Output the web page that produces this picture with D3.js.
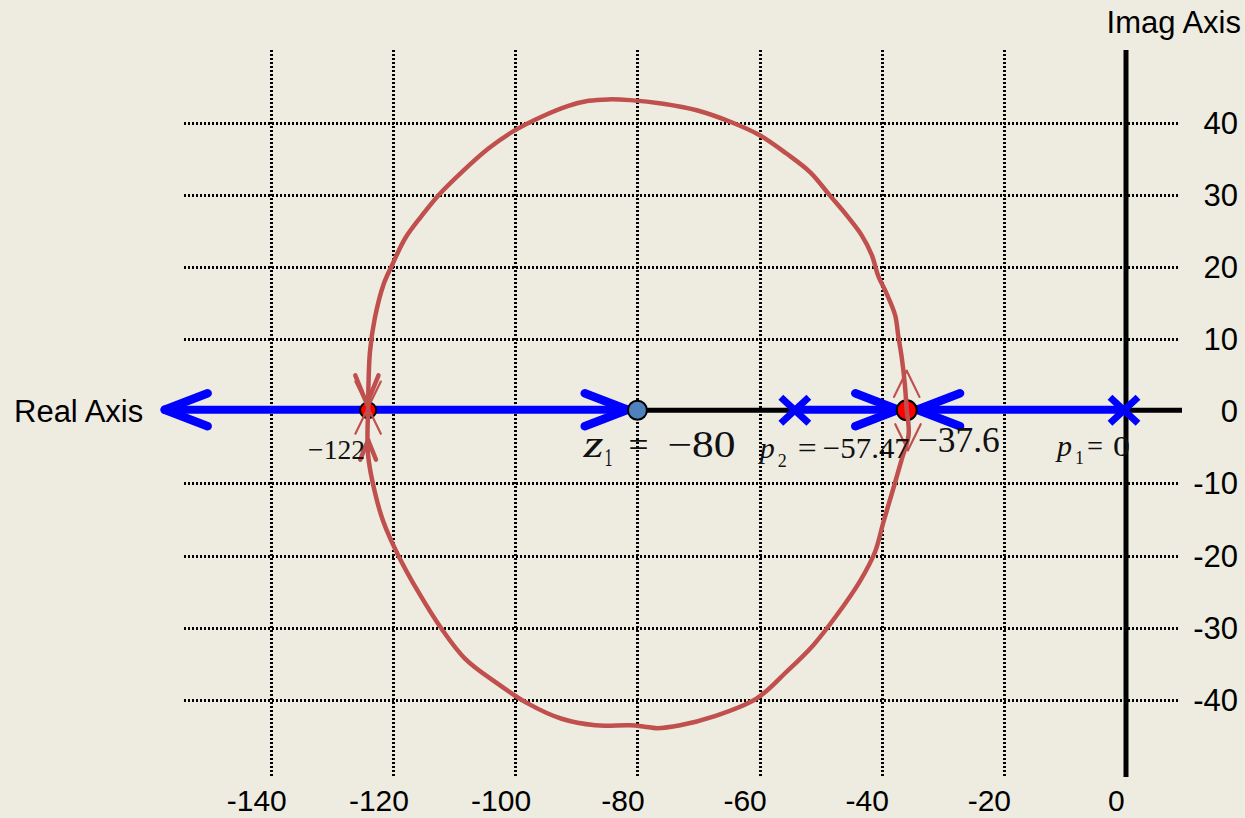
<!DOCTYPE html>
<html>
<head>
<meta charset="utf-8">
<script src="https://cdn.jsdelivr.net/npm/d3@7"></script>
<style>
    body { margin: 0; background: #EEECE1; }
    svg { display: block; }
</style>
</head>
<body>
<svg id="locus"></svg>
<script>
// axis ticks
const xTicks = [-140, -120, -100, -80, -60, -40, -20, 0];
const yTicks = [40, 30, 20, 10, 0, -10, -20, -30, -40];

// open loop poles and zero, break-in / breakaway points (as drawn)
const poles = [0, -53.9];
const zeros = [-80];
const breakPoints = [-124.1, -35.9];

// real axis branches [from, to]
const realSegments = [[-124.1, -157.4], [-124.1, -80], [-53.9, -35.9], [0, -35.9]];
// arrow tips on the real axis and their direction (+1 right, -1 left)
const realArrowTips = [-157.4, -81.6, -37.3, -34.2];
const realArrowDirs = [-1, 1, 1, -1];

// complex branches [re, im]
const locusUpper = [
    [-124.1, 0], [-123.8, 8.2], [-123.0, 12.9], [-121.6, 17.5], [-120.2, 20.2],
    [-118.0, 24.0], [-115.3, 27.1], [-112.6, 29.9], [-108.8, 33.1], [-104.4, 36.4],
    [-100.1, 38.9], [-95.7, 40.8], [-91.3, 42.3], [-88.0, 43.0], [-84.8, 43.2],
    [-81.2, 43.1], [-75.8, 42.6], [-70.3, 41.7], [-64.8, 40.1], [-59.9, 38.2],
    [-55.6, 35.7], [-51.7, 33.1], [-48.5, 29.9], [-45.7, 27.1], [-43.3, 24.4],
    [-41.6, 21.6], [-40.6, 18.8], [-39.2, 16.3], [-37.8, 13.3], [-37.3, 10.5],
    [-36.7, 7.3], [-36.2, 3.6], [-35.9, 0]
];
const locusLower = [
    [-124.1, 0], [-124.1, -6.1], [-123.0, -11.2], [-121.6, -15.3], [-119.2, -19.9],
    [-115.9, -25.0], [-112.1, -30.1], [-108.2, -34.3], [-103.3, -37.5], [-97.9, -40.5],
    [-92.4, -42.6], [-86.9, -43.5], [-81.2, -43.5], [-78.8, -43.7], [-76.8, -43.9],
    [-73.0, -43.5], [-67.6, -42.3], [-60.5, -39.8], [-55.6, -36.1], [-51.2, -32.4],
    [-47.4, -28.3], [-43.6, -23.6], [-41.1, -19.5], [-39.7, -15.3], [-38.1, -10.7],
    [-36.7, -6.6], [-35.6, -3.3], [-35.9, 0]
];

// direction arrows on the complex branches [re, im, +1 pointing down / -1 up]
const locusArrows = [
    [-124.3, 1.0, 1], [-124.1, -4.0, -1],
    [-124.1, 0.5, 1], [-124.1, 0.5, -1],
    [-35.9, 5.6, -1], [-35.7, -5.4, 1]
];

class RootLocus {
    constructor(_config) {
        this.config = {
            parentElement: _config.parentElement,
            containerWidth: _config.containerWidth || 1245,
            containerHeight: _config.containerHeight || 818,
            gridTop: 50, gridBottom: 776, gridLeft: 184, gridRight: 1179
        }
        this.initVis();
    }

    initVis() {
        let vis = this;
        vis.xScale = d3.scaleLinear().domain([-140, 0]).range([271, 1126]);
        vis.yScale = d3.scaleLinear().domain([-40, 40]).range([700, 122.5]);

        vis.svg = d3.select(vis.config.parentElement)
            .attr('width', vis.config.containerWidth)
            .attr('height', vis.config.containerHeight);

        vis.svg.append('rect')
            .attr('width', vis.config.containerWidth)
            .attr('height', vis.config.containerHeight)
            .attr('fill', '#EEECE1');

        vis.renderVis();
    }

    chevron(g, tipX, tipY, ux, uy, len, angle, color, width) {
        // arms go back from the tip, opposite to the pointing direction (ux, uy)
        [-1, 1].forEach(s => {
            let a = s * angle * Math.PI / 180;
            let bx = -ux * Math.cos(a) + uy * Math.sin(a);
            let by = -uy * Math.cos(a) - ux * Math.sin(a);
            g.append('line')
                .attr('x1', tipX).attr('y1', tipY)
                .attr('x2', tipX + bx * len).attr('y2', tipY + by * len)
                .attr('stroke', color)
                .attr('stroke-width', width)
                .attr('stroke-linecap', 'round');
        });
    }

    renderVis() {
        let vis = this;
        const x = vis.xScale, y = vis.yScale, c = vis.config;
        const sans = '"Liberation Sans", Arial, sans-serif';
        const serif = '"Liberation Serif", "Times New Roman", serif';

        // dotted grid
        const grid = vis.svg.append('g').attr('class', 'grid')
            .attr('shape-rendering', 'crispEdges');
        grid.selectAll('.vgrid')
            .data(xTicks.filter(d => d !== 0))
            .join('line')
            .attr('class', 'vgrid')
            .attr('x1', d => Math.round(x(d))).attr('x2', d => Math.round(x(d)))
            .attr('y1', c.gridTop).attr('y2', c.gridBottom);
        grid.selectAll('.hgrid')
            .data(yTicks.filter(d => d !== 0))
            .join('line')
            .attr('class', 'hgrid')
            .attr('x1', c.gridLeft).attr('x2', c.gridRight)
            .attr('y1', d => Math.round(y(d))).attr('y2', d => Math.round(y(d)));
        grid.selectAll('line')
            .attr('stroke', '#000')
            .attr('stroke-width', 3)
            .attr('stroke-dasharray', '2,2');

        // axes
        vis.svg.append('line')
            .attr('x1', x(0)).attr('x2', x(0))
            .attr('y1', c.gridTop).attr('y2', c.gridBottom + 1)
            .attr('stroke', '#000').attr('stroke-width', 5);
        vis.svg.append('line')
            .attr('x1', x(-80)).attr('x2', 1182)
            .attr('y1', y(0) - 1).attr('y2', y(0) - 1)
            .attr('stroke', '#000').attr('stroke-width', 5);

        // tick labels
        vis.svg.selectAll('.xlabel')
            .data(xTicks)
            .join('text')
            .attr('class', 'xlabel')
            .attr('x', d => x(d) - 10 + String(Math.abs(d)).length * 8.6)
            .attr('y', 811)
            .attr('text-anchor', 'end')
            .style('font-family', sans)
            .style('font-size', '30px')
            .text(d => d);
        vis.svg.selectAll('.ylabel')
            .data(yTicks)
            .join('text')
            .attr('class', 'ylabel')
            .attr('x', 1238)
            .attr('y', d => y(d) + 11)
            .attr('text-anchor', 'end')
            .style('font-family', sans)
            .style('font-size', '31px')
            .text(d => d);

        vis.svg.append('text')
            .attr('x', 14).attr('y', 422)
            .style('font-family', sans).style('font-size', '31px')
            .text('Real Axis');
        vis.svg.append('text')
            .attr('x', 1241).attr('y', 33)
            .attr('text-anchor', 'end')
            .style('font-family', sans).style('font-size', '31px')
            .text('Imag Axis');

        // blue branches on the real axis
        const blue = vis.svg.append('g').attr('class', 'real-locus');
        blue.selectAll('.seg')
            .data(realSegments)
            .join('line')
            .attr('class', 'seg')
            .attr('x1', d => x(d[0])).attr('x2', d => x(d[1]))
            .attr('y1', y(0) - 1.5).attr('y2', y(0) - 1.5)
            .attr('stroke', '#0000FF').attr('stroke-width', 8);
        realArrowTips.forEach((t, i) => {
            vis.chevron(blue, x(t), y(0) - 1.5, realArrowDirs[i], 0, 46, 21, '#0000FF', 8.5);
        });

        // break points
        vis.svg.selectAll('.break')
            .data(breakPoints)
            .join('circle')
            .attr('class', 'break')
            .attr('cx', d => x(d)).attr('cy', y(0) - 1)
            .attr('r', (d, i) => i === 0 ? 8 : 10)
            .attr('fill', '#FF0000')
            .attr('stroke', '#000').attr('stroke-width', 2);

        // complex branches
        const line = d3.line()
            .x(d => x(d[0])).y(d => y(d[1]))
            .curve(d3.curveCatmullRom.alpha(0.5));
        vis.svg.selectAll('.branch')
            .data([locusUpper, locusLower])
            .join('path')
            .attr('class', 'branch')
            .attr('d', line)
            .attr('fill', 'none')
            .attr('stroke', '#C0504D')
            .attr('stroke-width', 4.5)
            .attr('stroke-linejoin', 'round');

        const red = vis.svg.append('g').attr('class', 'locus-arrows');
        locusArrows.forEach((d, i) => {
            let thick = i < 2;
            vis.chevron(red, x(d[0]), y(d[1]), 0, d[2], thick ? (i === 0 ? 31 : 21) : 29,
                thick ? 22 : 26, '#C0504D', thick ? 4.5 : 2.2);
        });

        // zero
        vis.svg.selectAll('.zero')
            .data(zeros)
            .join('circle')
            .attr('class', 'zero')
            .attr('cx', d => x(d)).attr('cy', y(0) - 1)
            .attr('r', 9.5)
            .attr('fill', '#4F81BD')
            .attr('stroke', '#000').attr('stroke-width', 2);

        // poles
        vis.svg.selectAll('.pole')
            .data(poles)
            .join('path')
            .attr('class', 'pole')
            .attr('transform', d => `translate(${x(d) - 2},${y(0) - 1})`)
            .attr('d', 'M-14,-13L14,13M-14,13L14,-13')
            .attr('stroke', '#0000FF')
            .attr('stroke-width', 7);

        // annotations
        const ann = vis.svg.append('g').attr('class', 'annotations')
            .style('font-family', serif).attr('fill', '#111');
        const put = (px, py, txt, size, w, italic) => {
            let t = ann.append('text')
                .attr('x', px).attr('y', py)
                .style('font-size', size + 'px')
                .style('font-style', italic ? 'italic' : 'normal')
                .text(txt);
            if (w) t.attr('textLength', w).attr('lengthAdjust', 'spacingAndGlyphs');
        };
        let bx = x(breakPoints[0]);
        put(bx - 60, 459, '\u2212122', 28, 57);

        let zx = x(zeros[0]);
        put(zx - 54, 457, 'z', 38, 20, true);
        put(zx - 33, 466, '1', 25, 8);
        put(zx - 9, 457, '=', 36, 20);
        put(zx + 30, 457, '\u221280', 37, 68);

        let p2 = x(poles[1]);
        put(p2 - 37, 458, 'p', 30, 15, true);
        put(p2 - 19, 467, '2', 19, 9);
        put(p2 + 1, 458, '=', 30, 19);
        put(p2 + 26, 458, '\u221257.47', 30, 87);

        let b2 = x(breakPoints[1]);
        put(b2 + 11, 452, '\u221237.6', 36, 82);

        let p1 = x(poles[0]);
        put(p1 - 69, 456, 'p', 30, 15, true);
        put(p1 - 51, 464, '1', 19, 9);
        put(p1 - 39, 456, '=', 30, 16);
        put(p1 - 13, 456, '0', 30, 17);
    }
}

new RootLocus({ parentElement: '#locus' });
</script>
</body>
</html>
